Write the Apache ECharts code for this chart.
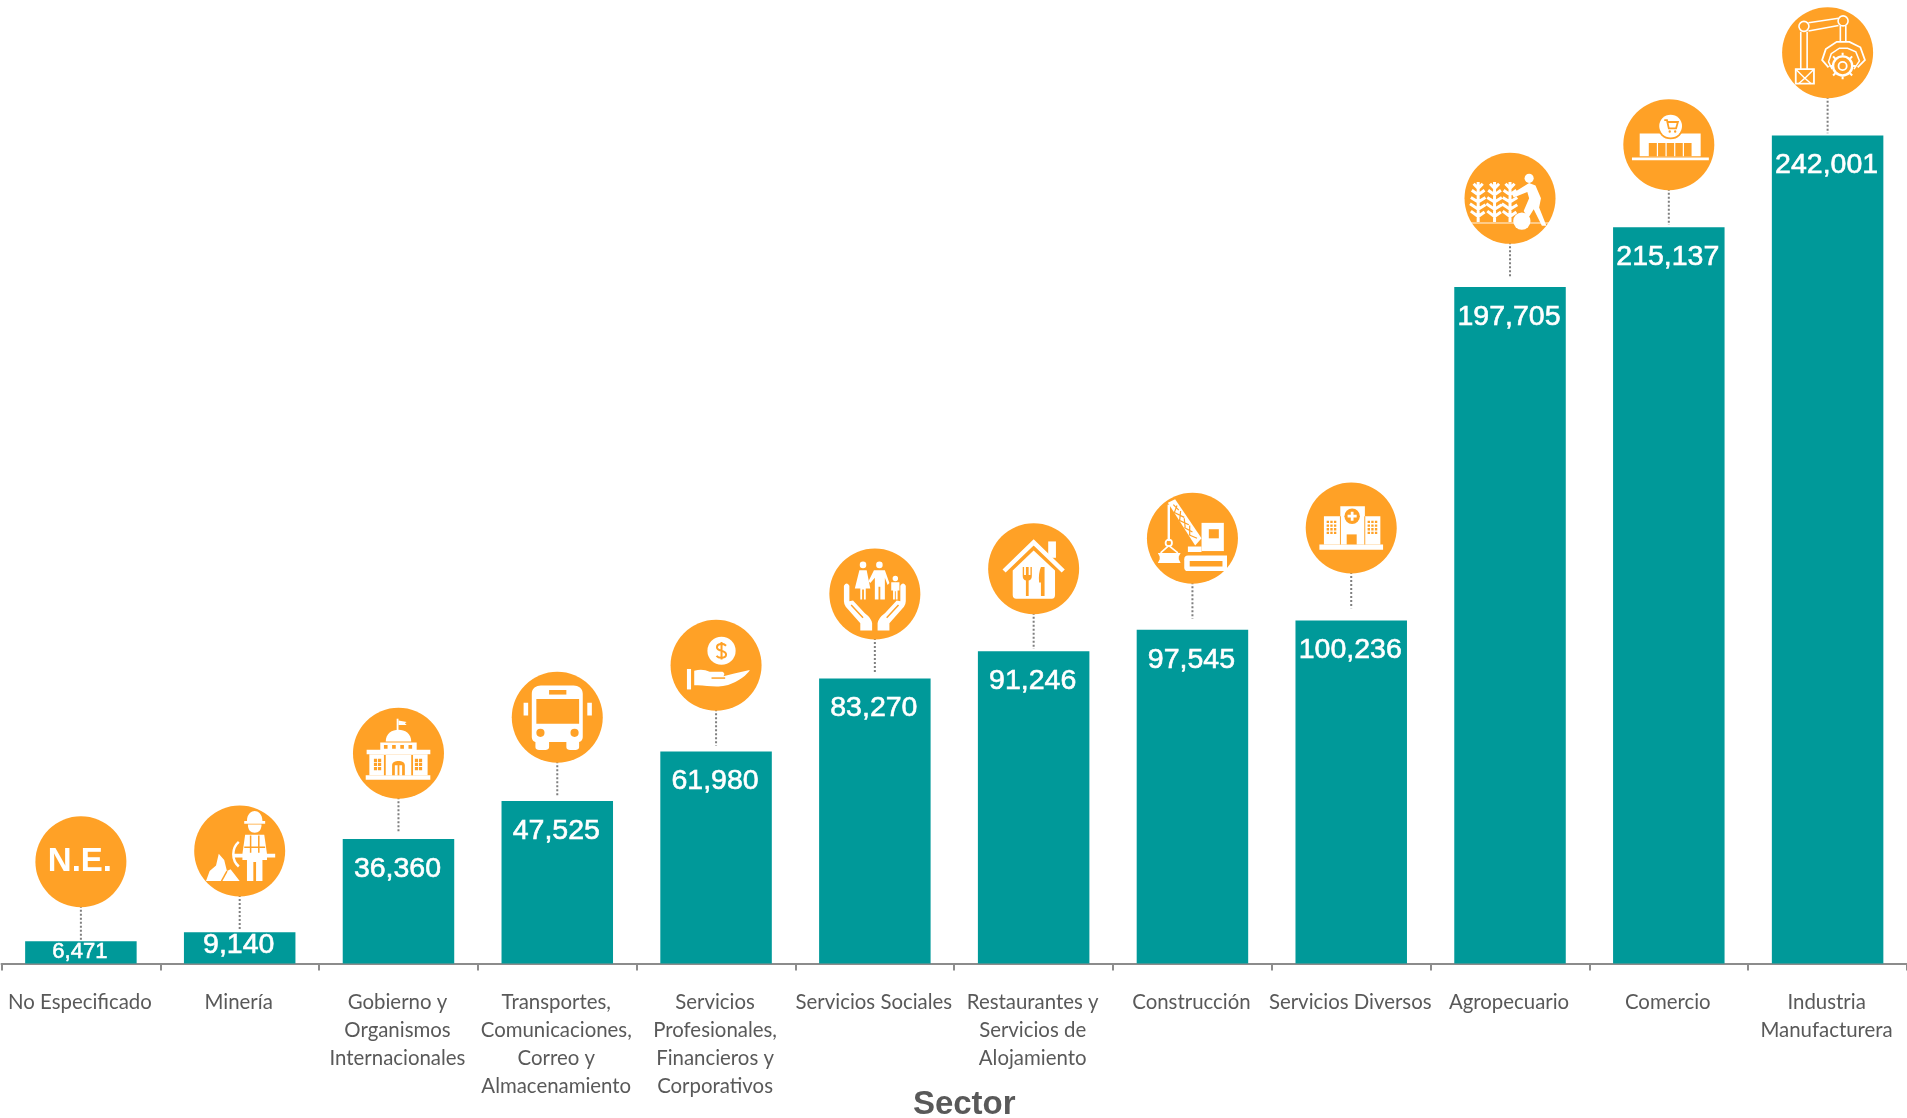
<!DOCTYPE html>
<html>
<head>
<meta charset="utf-8">
<title>Sector</title>
<script src="https://cdn.jsdelivr.net/npm/echarts@6/dist/echarts.min.js"></script>
<style>
html, body { margin: 0; padding: 0; background: #fff; }
#chart { width: 1907px; height: 1118px; }
</style>
</head>
<body>
<div id="chart"></div>
<script>
// ---DATA
var sectores = [
    'No Especificado', 'Minería', 'Gobierno y\nOrganismos\nInternacionales',
    'Transportes,\nComunicaciones,\nCorreo y\nAlmacenamiento',
    'Servicios\nProfesionales,\nFinancieros y\nCorporativos',
    'Servicios Sociales', 'Restaurantes y\nServicios de\nAlojamiento',
    'Construcción', 'Servicios Diversos', 'Agropecuario', 'Comercio',
    'Industria\nManufacturera'
];
var valores = [6471, 9140, 36360, 47525, 61980, 83270, 91246, 97545, 100236, 197705, 215137, 242001];
// center of each orange circle, in axis units
var alturaIcono = [29750, 32875, 61430, 71945, 87140, 107980, 115370, 124255, 127265, 223610, 239275, 266160];
// where the dotted leader stops, in axis units
var finLinea = [6471, 9585, 38050, 48570, 63650, 84600, 91900, 100760, 103800, 200235, 215810, 242600];

var TEAL = '#009999';
var ORANGE = '#FFA126';
var WHITE = '#ffffff';

// ---ICONS (drawn on a 100x100 box over the circle)
function plant(x) {
    return 'M' + x + ' 32V76' +
        'M' + x + ' 39L' + (x - 5) + ' 34M' + x + ' 39L' + (x + 5) + ' 34' +
        'M' + x + ' 46L' + (x - 7) + ' 41M' + x + ' 46L' + (x + 7) + ' 41' +
        'M' + x + ' 54L' + (x - 8) + ' 49M' + x + ' 54L' + (x + 8) + ' 49' +
        'M' + x + ' 62L' + (x - 9) + ' 56M' + x + ' 62L' + (x + 8) + ' 57' +
        'M' + x + ' 70L' + (x - 8) + ' 64M' + x + ' 70L' + (x + 7) + ' 65';
}
function ring(cx, cy, r) {
    return 'M' + (cx - r) + ' ' + cy + 'A' + r + ' ' + r + ' 0 1 1 ' + (cx + r) + ' ' + cy +
        'A' + r + ' ' + r + ' 0 1 1 ' + (cx - r) + ' ' + cy + 'Z';
}
function box(x1, y1, x2, y2) {
    return 'M' + x1 + ' ' + y1 + 'H' + x2 + 'V' + y2 + 'H' + x1 + 'Z';
}
function dotGrid(x, y, cols, rows, s, gap) {
    var d = '';
    for (var a = 0; a < cols; a++) {
        for (var b = 0; b < rows; b++) {
            d += box(x + a * gap, y + b * gap, x + a * gap + s, y + b * gap + s);
        }
    }
    return d;
}

// each part: [path, fill colour or null, stroke colour or null, stroke width]
var iconos = [
    null,
    [ // mineria
        ['M58 17C58 9 63 6 66.5 6S75 9 75 17H78V20H55V17Z', WHITE],
        ['M59 21H74C74 27 71 30 66.5 30S59 27 59 21Z', WHITE],
        ['M56 32H77L80 53H89V57H80V60H75V83H68V62H65V83H58V60H53V57H43V53H53Z', WHITE],
        ['M62 33V52M71 33V52M55 46H78', null, ORANGE, 1.5],
        ['M49 40C41 47 41 60 49 67', null, WHITE, 2.5],
        ['M13 83L17 72L24 66L27 53L33 60L36 72L40 70L50 83Z', WHITE],
        ['M30 83L36 72', null, ORANGE, 1.5]
    ],
    [ // gobierno
        ['M48 12H50V26H48Z', WHITE],
        ['M50 14L59 15.5L57 17L59 19L50 19Z', WHITE],
        ['M36 37C36 28 43 24 50 24S64 28 64 37Z', WHITE],
        [box(30, 38, 70, 49), WHITE],
        [box(15, 46, 85, 51), WHITE],
        [box(18, 51, 82, 74), WHITE],
        [box(14, 74, 85, 79), WHITE],
        [box(34, 41, 38, 45) + box(43, 41, 47, 45) + box(52, 41, 56, 45) + box(61, 41, 65, 45), ORANGE],
        [dotGrid(23, 56, 2, 3, 3.5, 4.5), ORANGE],
        [dotGrid(68, 56, 2, 3, 3.5, 4.5), ORANGE],
        ['M43 74V63C43 57 57 57 57 63V74H54V63H51V74H49V63H46V74Z', ORANGE],
        [box(34, 52, 36, 74) + box(64, 52, 66, 74), ORANGE]
    ],
    [ // transportes
        ['M22 24C22 18 27 15 32 15H68C73 15 78 18 78 24V72C78 75 76 77 74 77V83C74 85 72 86 70 86H64C62 86 60 85 60 83V77H41V83C41 85 39 86 37 86H30C28 86 26 85 26 83V77C24 77 22 75 22 72Z', WHITE],
        [box(27, 30, 74, 57), ORANGE],
        [box(41, 20, 60, 25), ORANGE],
        [ring(31.5, 67, 4.5) + ring(69, 67, 4.5), ORANGE],
        [box(13, 34, 18, 48) + box(83, 34, 88, 48), WHITE]
    ],
    [ // servicios profesionales
        [ring(56, 34, 15.5), WHITE],
        ['M61 28.5C58 25.5 51 25.5 51 30C51 35 61 33 61 38C61 42.5 53 42.5 50.5 39.5M56 24.5V43.5', null, ORANGE, 2],
        [box(18, 54, 22.5, 76.5), WHITE],
        ['M26 56C33 54 38 55 43 57L56 57C59 57 60 60 58 62L70 59L87 55C85 60 70 72 55 73C45 74 35 71 26 72Z', WHITE],
        ['M45 64H60', null, ORANGE, 1.5]
    ],
    [ // servicios sociales
        [ring(37, 18, 3.6) + ring(55, 18, 3.6) + ring(72.5, 33, 3), WHITE],
        ['M33 24H41L45 44H40V56H38V45H36V56H34V44H28Z', WHITE],
        ['M49 24H61L66 38L64 40L61 32V56H56V42H54V56H50V32L45 38L43 36Z', WHITE],
        ['M68 37H77V46H75V56H73V47H72V56H70V46H68Z', WHITE],
        ['M16 41Q19 36 22 41V58L26 57L39 71Q46 76 47 82V90H34V82L18 64Q16 61 16 58Z', WHITE],
        ['M84 41Q81 36 78 41V58L74 57L61 71Q54 76 53 82V90H66V82L82 64Q84 61 84 58Z', WHITE],
        ['M24 62L37 76M76 62L63 76', null, ORANGE, 1.5]
    ],
    [ // restaurantes
        ['M17.5 52.5L50 21L82.5 52.5', null, WHITE, 4.5],
        [box(66, 20, 74.5, 38), WHITE],
        ['M27 52L50 30L73.5 52V79Q73.5 83 70 83H31Q27 83 27 79Z', WHITE],
        ['M38 48V58Q38 62 41.5 63V80H44.5V63Q48 62 48 58V48H46.5V57H44.5V48H41.5V57H39.5V48Z', ORANGE],
        ['M58 48Q55 55 56 65H58V80H62V48Z', ORANGE]
    ],
    [ // construccion
        ['M23 11L31 7L60 50L53 58Z', WHITE],
        ['M29 13L35 19M29 21L41 27M35 30L46 35M41 38L50 43M46 46L55 50M33 14L30 22M37 20L36 30M41 28L42 38M47 36L47 46', null, ORANGE, 1.2],
        ['M24 13V53', null, WHITE, 2.4],
        [ring(24, 55, 3.5), null, WHITE, 1.8],
        ['M24 58L15 66M24 58L34 66', null, WHITE, 1.6],
        ['M12 66H37L35 70V73L37 77H12L14 73V70Z', WHITE],
        [box(60, 33, 84.5, 64), WHITE],
        [box(68, 40, 79, 50), ORANGE],
        ['M45 59H60V65H45Z', WHITE],
        ['M45 69H88V86H45Q41 86 41 82V73Q41 69 45 69Z', WHITE],
        [box(47, 75, 83, 81), ORANGE]
    ],
    [ // servicios diversos
        [box(15, 68, 85, 74), WHITE],
        [box(38, 26, 65, 68), WHITE],
        [box(20, 37, 38, 68) + box(65, 37, 82, 68), WHITE],
        [ring(51, 37, 8.5), ORANGE],
        ['M49.5 32H52.5V35.5H56V38.5H52.5V42H49.5V38.5H46V35.5H49.5Z', WHITE],
        [box(45, 57, 56, 68), ORANGE],
        [dotGrid(23, 42, 3, 4, 2.6, 4), ORANGE],
        [dotGrid(68, 42, 3, 4, 2.6, 4), ORANGE],
        [box(37.6, 37, 38.6, 68) + box(64.4, 37, 65.4, 68), ORANGE]
    ],
    [ // agropecuario
        [plant(15) + plant(33) + plant(50), null, WHITE, 3],
        ['M0 77H100', null, 'rgba(255,255,255,0.6)', 1.5],
        [ring(71, 28, 5), WHITE],
        ['M71 33L78 36L84 50L82 60L90 80H85L76 62L70 72L65 64L71 50L69 43L54 49L52 45Z', WHITE],
        [ring(63, 75, 9.5), WHITE]
    ],
    [ // comercio
        [box(18, 37.5, 85, 62.5), WHITE],
        [box(28, 48, 75, 62.5), ORANGE],
        ['M37.5 48V62.5M47 48V62.5M56.5 48V62.5M66 48V62.5', null, WHITE, 1.2],
        [box(9.5, 64, 94, 67), WHITE],
        [ring(52, 29.5, 14.5), ORANGE],
        [ring(52, 29.5, 12.5), WHITE],
        ['M45 23H48L50 32H58L60 25H49', null, ORANGE, 1.8],
        [ring(51, 35.5, 1.3) + ring(57, 35.5, 1.3), ORANGE]
    ],
    [ // industria
        [ring(24, 21, 5.5) + ring(67, 15, 5.5), null, WHITE, 1.6],
        ['M29 17L62 12M29 26L62 20', null, WHITE, 1.6],
        ['M20.5 27V68M27.5 27V68M64 20V37M70 20V37', null, WHITE, 1.6],
        [box(15, 68, 35, 84), null, WHITE, 1.8],
        ['M15 68L25 78L35 68M18 84L25 78L32 84', null, WHITE, 1.4],
        ['M51 66L44 58L48 46L60 38H74L86 44L91 58L83 66', null, WHITE, 1.8],
        ['M55 68L51 60L54 51L63 45H72L81 49L85 59L79 68', null, WHITE, 1.5],
        [ring(66.5, 64.5, 10.5), null, WHITE, 2.4],
        [ring(66.5, 64.5, 4.5), null, WHITE, 1.8],
        ['M66.5 50V53M66.5 76V79M52 64.5H55M78 64.5H81M56 54L58.5 56.5M74.5 72.5L77 75M77 54L74.5 56.5M58.5 72.5L56 75', null, WHITE, 2]
    ]
];

// two empty corner points keep every part in the same 100x100 box when it is fitted
var CORNERS = 'M0 0L0 0M100 100L100 100';
var ICON_BOX = 91;

function renderIcon(params, api) {
    var i = api.value(0);
    var p = api.coord([i, api.value(1)]);
    var fin = api.coord([i, api.value(2)]);
    var children = [{
        type: 'line',
        shape: { x1: 0, y1: 40, x2: 0, y2: fin[1] - p[1] },
        style: { stroke: '#7f7f7f', lineWidth: 2, lineDash: [2, 2] }
    }, {
        type: 'circle',
        shape: { cx: 0, cy: 0, r: ICON_BOX / 2 },
        style: { fill: ORANGE }
    }];
    if (iconos[i]) {
        iconos[i].forEach(function (part) {
            children.push({
                type: 'path',
                shape: {
                    pathData: CORNERS + part[0],
                    x: -ICON_BOX / 2, y: -ICON_BOX / 2, width: ICON_BOX, height: ICON_BOX,
                    layout: 'cover'
                },
                style: { fill: part[1] || 'none', stroke: part[2] || 'none', lineWidth: part[3] || 0 }
            });
        });
    } else {
        children.push({
            type: 'text',
            x: -1, y: 0,
            style: {
                text: 'N.E.', fill: WHITE, align: 'center', verticalAlign: 'middle',
                font: 'bold 33px "Liberation Sans"'
            }
        });
    }
    return { type: 'group', x: p[0], y: p[1], children: children };
}

var chart = echarts.init(document.getElementById('chart'));
chart.setOption({
    animation: false,
    grid: { left: 1.5, right: 0, top: 5.4, bottom: 154.5, outerBoundsMode: 'none' },
    xAxis: {
        type: 'category',
        data: sectores,
        name: 'Sector',
        nameLocation: 'middle',
        nameGap: 141,
        nameMoveOverlap: false,
        nameTextStyle: {
            color: '#595959', fontFamily: 'Liberation Sans', fontWeight: 'bold', fontSize: 33,
            verticalAlign: 'middle',
            padding: [0, 0, 0, 20]
        },
        axisLine: { lineStyle: { color: '#8c8c8c', width: 2 } },
        axisTick: { show: true, length: 7, lineStyle: { color: '#8c8c8c', width: 2 } },
        axisLabel: {
            interval: 0, margin: 25, color: '#595959', fontFamily: 'Lato', fontSize: 20.4, lineHeight: 28,
            padding: [0, 2, 0, 0]
        }
    },
    yAxis: { type: 'value', min: 0, max: 280000, show: false },
    series: [{
        type: 'bar',
        barWidth: 111.5,
        itemStyle: { color: TEAL },
        data: valores.map(function (v, i) {
            if (i == 0) return { value: v, label: { position: 'inside', fontSize: 22 } };
            if (i == 1) return { value: v, label: { position: 'insideTop', distance: -1 } };
            return v;
        }),
        label: {
            show: true,
            position: 'insideTop',
            distance: 16,
            offset: [-1, 0],
            color: WHITE,
            fontFamily: 'Liberation Sans',
            fontSize: 28.5,
            lineHeight: 28,
            textBorderColor: WHITE,
            textBorderWidth: 0.6,
            formatter: function (p) { return p.value.toLocaleString('en-US'); }
        }
    }, {
        type: 'custom',
        coordinateSystem: 'cartesian2d',
        renderItem: renderIcon,
        encode: { x: 0, y: 1 },
        data: sectores.map(function (s, i) { return [i, alturaIcono[i], finLinea[i]]; }),
        z: 5,
        silent: true
    }]
});
</script>
</body>
</html>
